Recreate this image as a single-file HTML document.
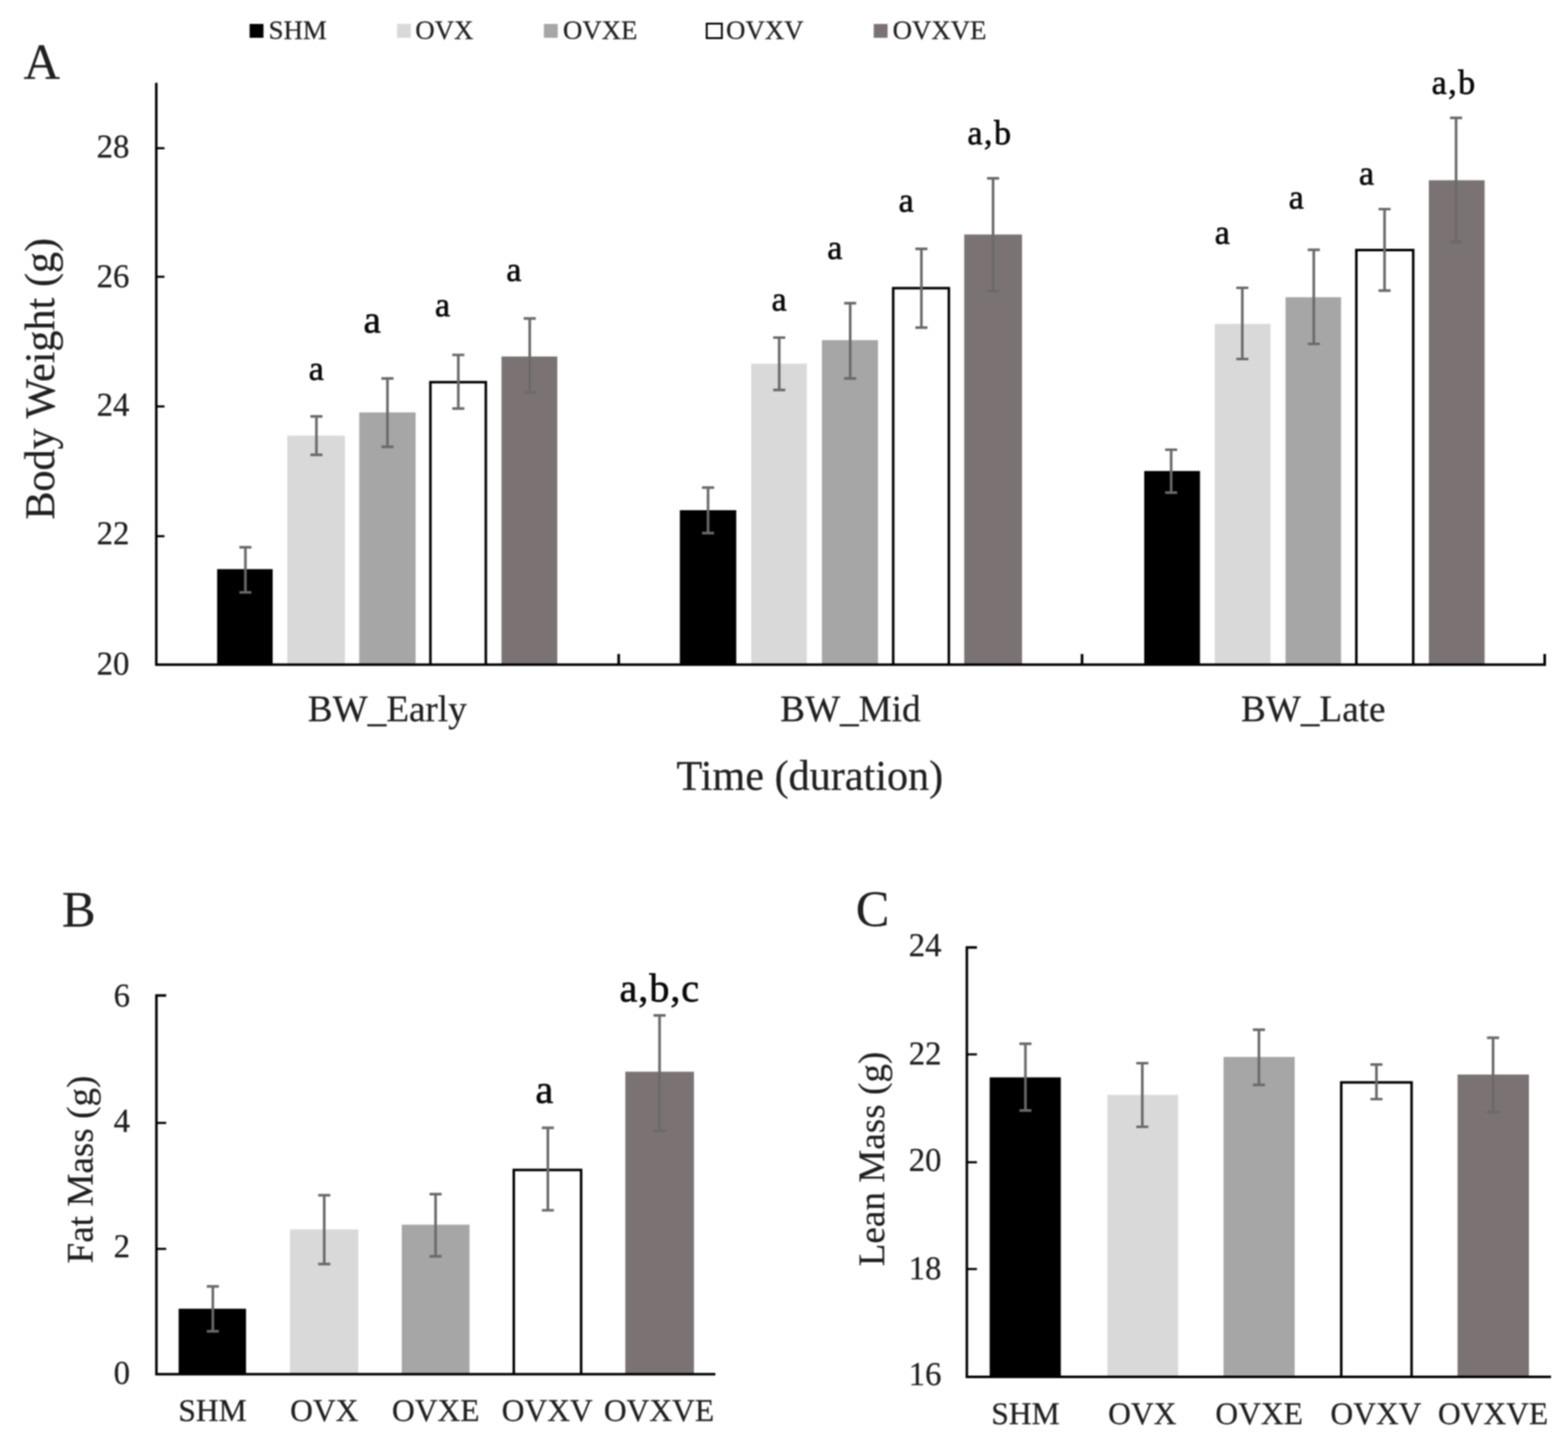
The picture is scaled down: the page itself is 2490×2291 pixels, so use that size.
<!DOCTYPE html>
<html lang="en">
<head>
<meta charset="utf-8">
<title>Body weight, fat mass and lean mass</title>
<style>
html,body{margin:0;padding:0;background:#fff;}
body{width:2490px;height:2291px;overflow:hidden;}
svg{display:block;filter:blur(0.9px);}
svg text{font-family:"Liberation Serif", "DejaVu Serif", serif;fill:#202020;stroke:#202020;stroke-width:0.35px;}
svg text.an{fill:#0a0a0a;stroke:#0a0a0a;stroke-width:1px;}
</style>
</head>
<body>
<svg width="2490" height="2291" viewBox="0 0 2490 2291" shape-rendering="geometricPrecision">
<rect x="0" y="0" width="2490" height="2291" fill="#ffffff"/>
<g id="legend">
<rect x="396.4" y="38.0" width="22" height="22" fill="#000000"/>
<text x="426.5" y="61.5" font-size="42.6" text-anchor="start">SHM</text>
<rect x="630.5" y="38.0" width="22" height="22" fill="#d9d9d9"/>
<text x="659.5" y="61.5" font-size="42.6" text-anchor="start">OVX</text>
<rect x="863.7" y="38.0" width="22" height="22" fill="#a6a6a6"/>
<text x="894.0" y="61.5" font-size="42.6" text-anchor="start">OVXE</text>
<rect x="1122.3" y="37.5" width="24" height="23" fill="#fff" stroke="#000" stroke-width="3"/>
<text x="1153.0" y="61.5" font-size="42.6" text-anchor="start">OVXV</text>
<rect x="1387.5" y="38.0" width="22" height="22" fill="#7b7373"/>
<text x="1417.5" y="61.5" font-size="42.6" text-anchor="start">OVXVE</text>
</g>
<g id="panelA">
<text x="37.5" y="125.0" font-size="80" text-anchor="start">A</text>
<rect x="344.8" y="903.6" width="88.2" height="151.7" fill="#000000"/>
<rect x="456.2" y="691.6" width="91.5" height="363.7" fill="#d9d9d9"/>
<rect x="570.5" y="654.8" width="89.5" height="400.5" fill="#a6a6a6"/>
<path d="M683.5 1055.3V606.7H771.5V1055.3" fill="#fff" stroke="#000" stroke-width="4.0"/>
<rect x="796.4" y="566.0" width="88.6" height="489.3" fill="#7b7373"/>
<rect x="1079.6" y="810.0" width="89.6" height="245.3" fill="#000000"/>
<rect x="1193.0" y="577.4" width="88.3" height="477.9" fill="#d9d9d9"/>
<rect x="1305.2" y="540.0" width="89.1" height="515.3" fill="#a6a6a6"/>
<path d="M1418.4 1055.3V457.6H1506.8V1055.3" fill="#fff" stroke="#000" stroke-width="4.0"/>
<rect x="1531.2" y="372.3" width="91.8" height="683.0" fill="#7b7373"/>
<rect x="1817.0" y="747.8" width="88.6" height="307.5" fill="#000000"/>
<rect x="1929.0" y="514.2" width="88.6" height="541.1" fill="#d9d9d9"/>
<rect x="2041.5" y="471.9" width="88.1" height="583.4" fill="#a6a6a6"/>
<path d="M2153.9 1055.3V397.1H2244.2V1055.3" fill="#fff" stroke="#000" stroke-width="4.0"/>
<rect x="2269.0" y="286.2" width="88.6" height="769.1" fill="#7b7373"/>
<path d="M389.7 868.8V940.5M380.1 868.8H399.3M380.1 940.5H399.3" fill="none" stroke="#6a6a6a" stroke-width="4.2"/>
<path d="M502.5 661.2V722.2M492.9 661.2H512.1M492.9 722.2H512.1" fill="none" stroke="#6a6a6a" stroke-width="4.2"/>
<path d="M615.3 600.8V709.3M605.7 600.8H624.9M605.7 709.3H624.9" fill="none" stroke="#6a6a6a" stroke-width="4.2"/>
<path d="M727.8 563.5V648.7M718.2 563.5H737.4M718.2 648.7H737.4" fill="none" stroke="#6a6a6a" stroke-width="4.2"/>
<path d="M841.2 505.7V623.2M831.6 505.7H850.8M831.6 623.2H850.8" fill="none" stroke="#6a6a6a" stroke-width="4.2"/>
<path d="M1124.4 774.2V846.4M1114.8 774.2H1134.0M1114.8 846.4H1134.0" fill="none" stroke="#6a6a6a" stroke-width="4.2"/>
<path d="M1237.4 536.0V619.2M1227.8 536.0H1247.0M1227.8 619.2H1247.0" fill="none" stroke="#6a6a6a" stroke-width="4.2"/>
<path d="M1350.1 481.3V600.8M1340.5 481.3H1359.7M1340.5 600.8H1359.7" fill="none" stroke="#6a6a6a" stroke-width="4.2"/>
<path d="M1463.2 395.2V520.2M1453.6 395.2H1472.8M1453.6 520.2H1472.8" fill="none" stroke="#6a6a6a" stroke-width="4.2"/>
<path d="M1577.0 283.2V462.0M1567.4 283.2H1586.6M1567.4 462.0H1586.6" fill="none" stroke="#6a6a6a" stroke-width="4.2"/>
<path d="M1859.8 714.0V782.2M1850.2 714.0H1869.4M1850.2 782.2H1869.4" fill="none" stroke="#6a6a6a" stroke-width="4.2"/>
<path d="M1972.8 457.0V570.0M1963.2 457.0H1982.4M1963.2 570.0H1982.4" fill="none" stroke="#6a6a6a" stroke-width="4.2"/>
<path d="M2086.3 396.7V546.0M2076.7 396.7H2095.9M2076.7 546.0H2095.9" fill="none" stroke="#6a6a6a" stroke-width="4.2"/>
<path d="M2198.7 332.0V461.4M2189.1 332.0H2208.3M2189.1 461.4H2208.3" fill="none" stroke="#6a6a6a" stroke-width="4.2"/>
<path d="M2312.3 187.2V384.3M2302.7 187.2H2321.9M2302.7 384.3H2321.9" fill="none" stroke="#6a6a6a" stroke-width="4.2"/>
<path d="M248.2 131.5V1055.3H2455" fill="none" stroke="#000000" stroke-width="4.0" stroke-linejoin="miter"/>
<path d="M248.2 235.3h13" stroke="#000000" stroke-width="3.4"/>
<path d="M248.2 439.4h13" stroke="#000000" stroke-width="3.4"/>
<path d="M248.2 645.3h13" stroke="#000000" stroke-width="3.4"/>
<path d="M248.2 851.3h13" stroke="#000000" stroke-width="3.4"/>
<path d="M982.5 1055.3v-17" stroke="#000000" stroke-width="4.2"/>
<path d="M1718.3 1055.3v-17" stroke="#000000" stroke-width="4.2"/>
<path d="M2453 1055.3v-17" stroke="#000000" stroke-width="4.2"/>
<text x="205.5" y="249.8" font-size="52" text-anchor="end">28</text>
<text x="205.5" y="456.4" font-size="52" text-anchor="end">26</text>
<text x="205.5" y="660.3" font-size="52" text-anchor="end">24</text>
<text x="205.5" y="864.3" font-size="52" text-anchor="end">22</text>
<text x="205.5" y="1071.3" font-size="52" text-anchor="end">20</text>
<text transform="translate(86.0 601.4) rotate(-90)" font-size="67" text-anchor="middle">Body Weight (g)</text>
<text x="615.0" y="1144.5" font-size="59" text-anchor="middle">BW_Early</text>
<text x="1350.5" y="1144.5" font-size="59" text-anchor="middle">BW_Mid</text>
<text x="2085.5" y="1144.5" font-size="59" text-anchor="middle">BW_Late</text>
<text x="1286.0" y="1254.0" font-size="67" text-anchor="middle">Time (duration)</text>
<text x="502.2" y="602.9" font-size="54" text-anchor="middle" class="an">a</text>
<text x="591.0" y="528.4" font-size="62" text-anchor="middle" class="an">a</text>
<text x="702.7" y="502.0" font-size="54" text-anchor="middle" class="an">a</text>
<text x="816.0" y="445.6" font-size="54" text-anchor="middle" class="an">a</text>
<text x="1237.3" y="493.0" font-size="54" text-anchor="middle" class="an">a</text>
<text x="1325.7" y="410.6" font-size="54" text-anchor="middle" class="an">a</text>
<text x="1439.0" y="335.9" font-size="54" text-anchor="middle" class="an">a</text>
<text x="1941.0" y="387.0" font-size="54" text-anchor="middle" class="an">a</text>
<text x="2058.4" y="330.5" font-size="54" text-anchor="middle" class="an">a</text>
<text x="2170.0" y="293.0" font-size="54" text-anchor="middle" class="an">a</text>
<text x="1572.0" y="228.6" font-size="54" text-anchor="middle" class="an" letter-spacing="2.3">a,b</text>
<text x="2309.1" y="148.5" font-size="54" text-anchor="middle" class="an" letter-spacing="2.3">a,b</text>
</g>
<g id="panelB">
<text x="98.5" y="1470.5" font-size="80" text-anchor="start">B</text>
<rect x="283.7" y="2077.8" width="107.0" height="104.0" fill="#000000"/>
<rect x="460.4" y="1951.9" width="108.6" height="229.9" fill="#d9d9d9"/>
<rect x="638.0" y="1944.4" width="107.6" height="237.4" fill="#a6a6a6"/>
<path d="M815.9 2181.8V1857.4H922.8V2181.8" fill="#fff" stroke="#000" stroke-width="4.0"/>
<rect x="993.0" y="1701.5" width="109.0" height="480.3" fill="#7b7373"/>
<path d="M338.0 2042.4V2113.6M328.4 2042.4H347.6M328.4 2113.6H347.6" fill="none" stroke="#6a6a6a" stroke-width="4.2"/>
<path d="M514.9 1897.6V2006.9M505.3 1897.6H524.5M505.3 2006.9H524.5" fill="none" stroke="#6a6a6a" stroke-width="4.2"/>
<path d="M691.7 1895.8V1994.6M682.1 1895.8H701.3M682.1 1994.6H701.3" fill="none" stroke="#6a6a6a" stroke-width="4.2"/>
<path d="M870.0 1790.6V1921.5M860.4 1790.6H879.6M860.4 1921.5H879.6" fill="none" stroke="#6a6a6a" stroke-width="4.2"/>
<path d="M1047.4 1612.1V1795.3M1037.8 1612.1H1057.0M1037.8 1795.3H1057.0" fill="none" stroke="#6a6a6a" stroke-width="4.2"/>
<path d="M263.9 1580.6H248.4V2181.8H1136" fill="none" stroke="#000000" stroke-width="4.0" stroke-linejoin="miter"/>
<path d="M248.4 1782.8h15.5" stroke="#000000" stroke-width="3.4"/>
<path d="M248.4 1982.8h15.5" stroke="#000000" stroke-width="3.4"/>
<text x="206.5" y="1597.5" font-size="52" text-anchor="end">6</text>
<text x="206.5" y="1797.2" font-size="52" text-anchor="end">4</text>
<text x="206.5" y="1995.7" font-size="52" text-anchor="end">2</text>
<text x="206.5" y="2196.5" font-size="52" text-anchor="end">0</text>
<text transform="translate(147.0 1856.8) rotate(-90)" font-size="59" text-anchor="middle">Fat Mass (g)</text>
<text x="337.5" y="2256.0" font-size="50" text-anchor="middle">SHM</text>
<text x="515.0" y="2256.0" font-size="50" text-anchor="middle">OVX</text>
<text x="692.0" y="2256.0" font-size="50" text-anchor="middle">OVXE</text>
<text x="869.0" y="2256.0" font-size="50" text-anchor="middle">OVXV</text>
<text x="1046.5" y="2256.0" font-size="50" text-anchor="middle">OVXVE</text>
<text x="864.4" y="1750.6" font-size="64" text-anchor="middle" class="an">a</text>
<text x="1047.7" y="1589.6" font-size="64" text-anchor="middle" class="an" letter-spacing="1.4">a,b,c</text>
</g>
<g id="panelC">
<text x="1359.0" y="1469.5" font-size="80" text-anchor="start">C</text>
<rect x="1571.6" y="1710.5" width="113.0" height="475.5" fill="#000000"/>
<rect x="1758.6" y="1738.3" width="112.4" height="447.7" fill="#d9d9d9"/>
<rect x="1943.0" y="1678.1" width="113.0" height="507.9" fill="#a6a6a6"/>
<path d="M2129.9 2186.0V1718.4H2241.6V2186.0" fill="#fff" stroke="#000" stroke-width="4.0"/>
<rect x="2314.6" y="1706.0" width="113.4" height="480.0" fill="#7b7373"/>
<path d="M1628.4 1657.2V1763.2M1618.8 1657.2H1638.0M1618.8 1763.2H1638.0" fill="none" stroke="#6a6a6a" stroke-width="4.2"/>
<path d="M1814.0 1688.0V1789.0M1804.4 1688.0H1823.6M1804.4 1789.0H1823.6" fill="none" stroke="#6a6a6a" stroke-width="4.2"/>
<path d="M1999.2 1634.8V1722.4M1989.6 1634.8H2008.8M1989.6 1722.4H2008.8" fill="none" stroke="#6a6a6a" stroke-width="4.2"/>
<path d="M2185.8 1690.1V1745.0M2176.2 1690.1H2195.4M2176.2 1745.0H2195.4" fill="none" stroke="#6a6a6a" stroke-width="4.2"/>
<path d="M2371.0 1647.7V1765.7M2361.4 1647.7H2380.6M2361.4 1765.7H2380.6" fill="none" stroke="#6a6a6a" stroke-width="4.2"/>
<path d="M1551.4 1504.3H1535.4V2186H2463" fill="none" stroke="#000000" stroke-width="4.0" stroke-linejoin="miter"/>
<path d="M1535.4 1674h16" stroke="#000000" stroke-width="3.4"/>
<path d="M1535.4 1845.3h16" stroke="#000000" stroke-width="3.4"/>
<path d="M1535.4 2014.8h16" stroke="#000000" stroke-width="3.4"/>
<text x="1495.0" y="1517.7" font-size="52" text-anchor="end">24</text>
<text x="1495.0" y="1690.2" font-size="52" text-anchor="end">22</text>
<text x="1495.0" y="1859.0" font-size="52" text-anchor="end">20</text>
<text x="1495.0" y="2030.5" font-size="52" text-anchor="end">18</text>
<text x="1495.0" y="2199.0" font-size="52" text-anchor="end">16</text>
<text transform="translate(1404.0 1840.1) rotate(-90)" font-size="59" text-anchor="middle">Lean Mass (g)</text>
<text x="1628.5" y="2260.5" font-size="50" text-anchor="middle">SHM</text>
<text x="1814.0" y="2260.5" font-size="50" text-anchor="middle">OVX</text>
<text x="1999.5" y="2260.5" font-size="50" text-anchor="middle">OVXE</text>
<text x="2185.0" y="2260.5" font-size="50" text-anchor="middle">OVXV</text>
<text x="2371.0" y="2260.5" font-size="50" text-anchor="middle">OVXVE</text>
</g>
</svg>
</body>
</html>
